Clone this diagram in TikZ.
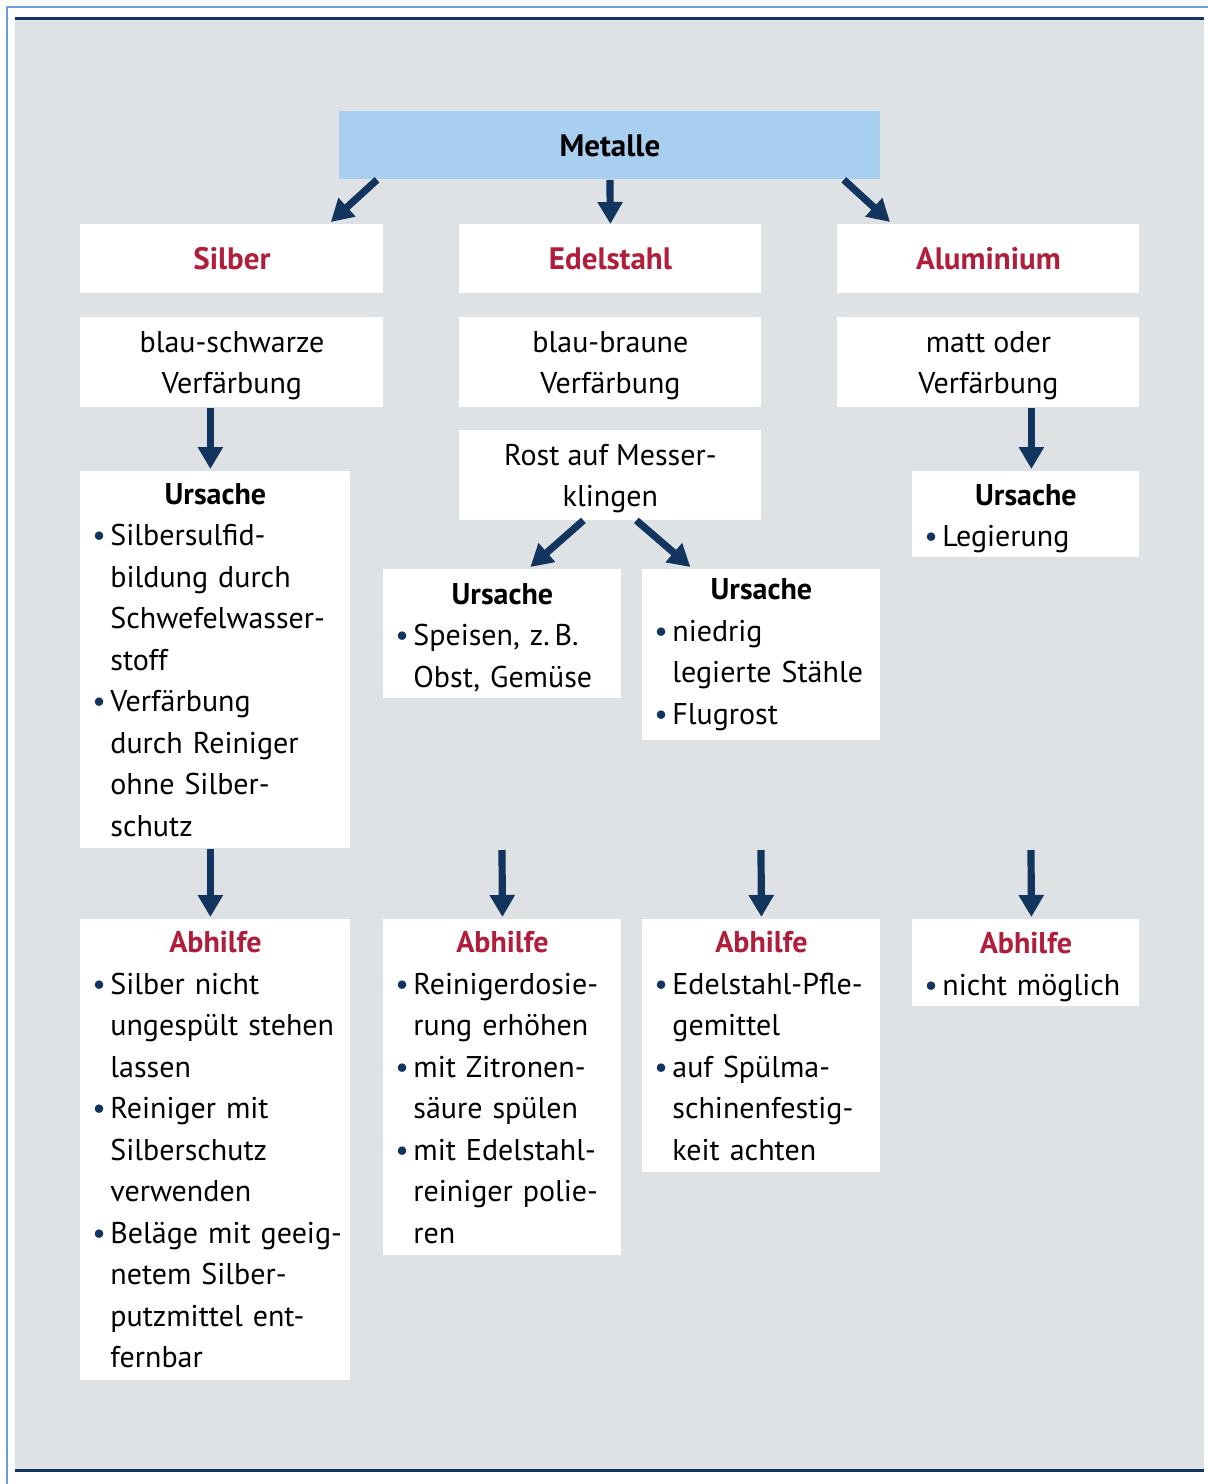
\documentclass[tikz,border=0pt]{standalone}
\usepackage{fontspec}
\setmainfont{PT Sans}
\usetikzlibrary{arrows.meta,positioning}

\definecolor{panel}{HTML}{DFE2E5}
\definecolor{skyblue}{HTML}{A8CEF0}
\definecolor{framebl}{HTML}{6A9FDB}
\definecolor{navy}{HTML}{12355F}
\definecolor{wine}{HTML}{B01E3C}

\newcommand\bul{\makebox[9pt][l]{\textcolor{navy}{\textbullet}}}
\newcommand\bi[1]{\bul\mbox{#1}}
\newcommand\ci[1]{\hspace*{9pt}\mbox{#1}}
\newcommand\ttl[1]{{\centering\bfseries #1\par}}
\newcommand\up{\rule{0pt}{14pt}}

\begin{document}
\begin{tikzpicture}[
            x=0.5pt, y=-0.5pt,
            font=\fontsize{15pt}{20.75pt}\selectfont,
            box/.style={fill=white, inner sep=0pt, anchor=north west},
            head/.style={box, align=center, font=\fontsize{15.5pt}{20.75pt}\selectfont\bfseries, text=wine},
            note/.style={box, align=center},
            list/.style={box, align=left, inner xsep=6pt},
            arr/.style={draw=navy, line width=3.6pt, -{Triangle[width=12pt,length=11pt]}}
        ]
            \useasboundingbox (0,0) rectangle (1208,1484);
            % background panel
            \fill[panel] (15,17) rectangle (1204,1471);
            \draw[framebl, line width=1pt] (7,1484) -- (7,7) -- (1208,7);
            \draw[navy, line width=1.5pt] (15,18) -- (1204,18);
            \draw[navy, line width=1.5pt] (15,1470) -- (1204,1470);

            \node[box, fill=skyblue, minimum width=270.5pt, minimum height=34pt, font=\fontsize{15.5pt}{20.75pt}\selectfont\bfseries] (metalle) at (339,111) {Metalle};

            \node[head, minimum width=151.5pt, minimum height=34.5pt] (silber) at (80,224) {Silber};
            \node[head, minimum width=151pt, minimum height=34.5pt] (edel) at (459,224) {Edelstahl};
            \node[head, minimum width=151pt, minimum height=34.5pt] (alu) at (837,224) {Aluminium};

            \node[note, below=11.5pt of silber, minimum width=151.5pt, minimum height=45pt] (silberVf) {\up blau-schwarze\\Verfärbung};
            \node[note, below=11.5pt of edel, minimum width=151pt, minimum height=45pt] (edelVf) {\up blau-braune\\Verfärbung};
            \node[note, below=11.5pt of alu, minimum width=151pt, minimum height=45pt] (aluVf) {\up matt oder\\Verfärbung};
            \node[note, below=11pt of edelVf, minimum width=151pt, minimum height=45pt] (rost) {\up Rost auf Messer-\\klingen};

            % Ursache
            \node[list, text width=123pt, minimum width=135pt, minimum height=188.5pt] (silberU) at (80,471) {\ttl{Ursache}%
                \bi{Silbersulfid-}\\\ci{bildung durch}\\\ci{Schwefelwasser-}\\\ci{stoff}\\
                \bi{Verfärbung}\\\ci{durch Reiniger}\\\ci{ohne Silber-}\\\ci{schutz}};
            \node[list, text width=107pt, minimum width=119pt, minimum height=64.5pt] (edelUa) at (383,569) {\ttl{\up Ursache}%
                \bi{Speisen, z.\,B.}\\\ci{Obst, Gemüse}};
            \node[list, text width=107pt, minimum width=119pt, minimum height=85.5pt] (edelUb) at (642,569) {\ttl{Ursache}%
                \bi{niedrig}\\\ci{legierte Stähle}\\
                \bi{Flugrost}};
            \node[list, text width=101.5pt, minimum width=113.5pt, minimum height=43pt] (aluU) at (912,471) {\ttl{\rule{0pt}{15pt}Ursache}%
                \bi{Legierung}};

            % Abhilfe
            \node[list, text width=123pt, minimum width=135pt, minimum height=230.5pt] (silberA) at (80,919) {\ttl{\textcolor{wine}{Abhilfe}}%
                \bi{Silber nicht}\\\ci{ungespült stehen}\\\ci{lassen}\\
                \bi{Reiniger mit}\\\ci{Silberschutz}\\\ci{verwenden}\\
                \bi{Beläge mit geeig-}\\\ci{netem Silber-}\\\ci{putzmittel ent-}\\\ci{fernbar}};
            \node[list, text width=107pt, minimum width=119pt, minimum height=168pt] (edelAa) at (383,919) {\ttl{\textcolor{wine}{Abhilfe}}%
                \bi{Reinigerdosie-}\\\ci{rung erhöhen}\\
                \bi{mit Zitronen-}\\\ci{säure spülen}\\
                \bi{mit Edelstahl-}\\\ci{reiniger polie-}\\\ci{ren}};
            \node[list, text width=107pt, minimum width=119pt, minimum height=126.5pt] (edelAb) at (642,919) {\ttl{\textcolor{wine}{Abhilfe}}%
                \bi{Edelstahl-Pfle-}\\\ci{gemittel}\\
                \bi{auf Spülma-}\\\ci{schinenfestig-}\\\ci{keit achten}};
            \node[list, text width=101.5pt, minimum width=113.5pt, minimum height=43.5pt] (aluA) at (912,919) {\ttl{\rule{0pt}{15pt}\textcolor{wine}{Abhilfe}}%
                \bi{nicht möglich}};

            \coordinate (edelUaEnd) at (502,850);
            \coordinate (edelUbEnd) at (761,850);
            \coordinate (aluUEnd) at (1031,850);

            \draw[arr] ([xshift=19pt]metalle.south west) -- ([xshift=-26.5pt,yshift=1pt]silber.north east);
            \draw[arr] (metalle.south) -- (edel.north);
            \draw[arr] ([xshift=-18.5pt]metalle.south east) -- ([xshift=26.5pt,yshift=1pt]alu.north west);
            \draw[arr] ([xshift=-10.75pt]silberVf.south) -- ([xshift=-2.5pt,yshift=1pt]silberU.north);
            \draw[arr] ([xshift=21.5pt]aluVf.south) -- ([xshift=2.75pt,yshift=1pt]aluU.north);
            \draw[arr] ([xshift=-13.5pt]rost.south) -- ([xshift=14pt,yshift=1pt]edelUa.north);
            \draw[arr] ([xshift=13pt]rost.south) -- ([xshift=-35.5pt,yshift=1pt]edelUb.north);
            \draw[arr] ([xshift=-2.5pt]silberU.south) -- ([xshift=-2.5pt,yshift=1pt]silberA.north);
            \draw[arr] (edelUaEnd) -- ([yshift=1pt]edelAa.north);
            \draw[arr] (edelUbEnd) -- ([yshift=1pt]edelAb.north);
            \draw[arr] (aluUEnd) -- ([xshift=2.75pt,yshift=1pt]aluA.north);
        \end{tikzpicture}
\end{document}
